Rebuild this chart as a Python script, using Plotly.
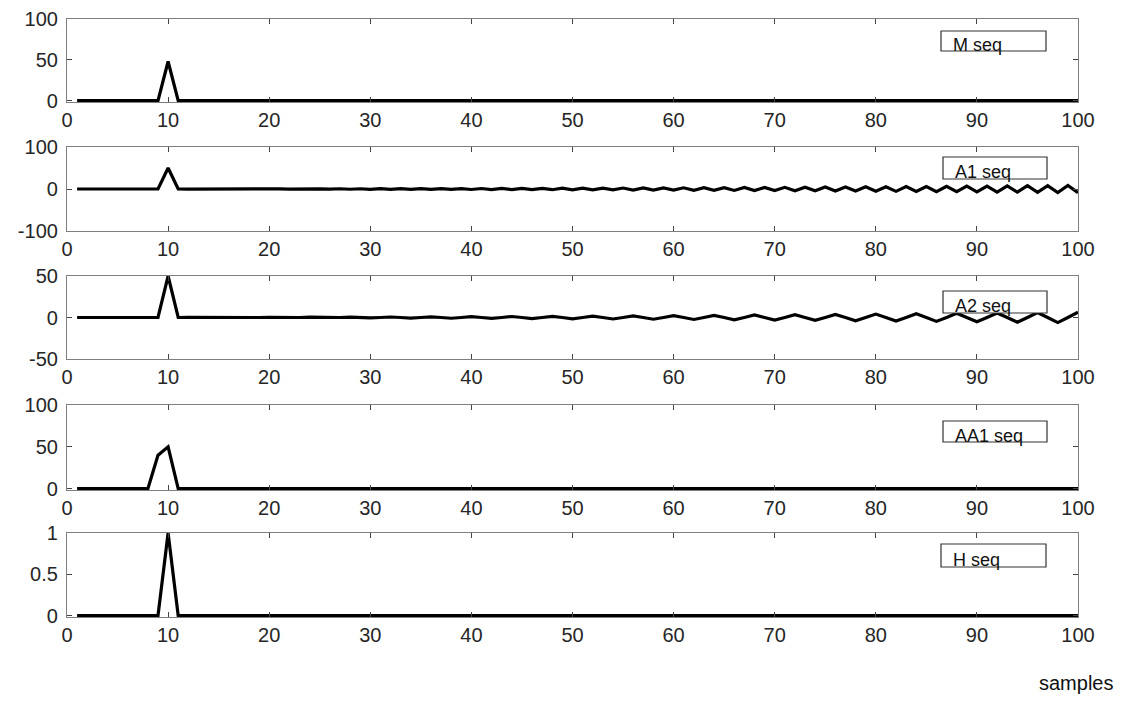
import plotly.graph_objects as go

samples = list(range(1, 101))

m_seq = [0, 0, 0, 0, 0, 0, 0, 0, 0, 48] + [0] * 90

a1_seq = [
    0, 0, 0, 0, 0, 0, 0, 0, 0, 50,
    0.1, -0.1, 0.1, -0.2, 0.2, -0.2, 0.2, -0.3, 0.3, -0.3,
    0.4, -0.4, 0.4, -0.5, 0.5, -0.5, 0.6, -0.6, 0.6, -0.7,
    0.7, -0.8, 0.8, -0.9, 0.9, -1.0, 1.0, -1.1, 1.1, -1.2,
    1.2, -1.3, 1.4, -1.4, 1.5, -1.6, 1.6, -1.7, 1.8, -1.9,
    1.9, -2.0, 2.1, -2.2, 2.3, -2.4, 2.5, -2.6, 2.7, -2.8,
    2.9, -3.0, 3.1, -3.2, 3.3, -3.4, 3.5, -3.7, 3.8, -3.9,
    4.0, -4.2, 4.3, -4.4, 4.6, -4.7, 4.8, -5.0, 5.1, -5.3,
    5.4, -5.6, 5.7, -5.9, 6.0, -6.2, 6.4, -6.5, 6.7, -6.9,
    7.0, -7.2, 7.4, -7.6, 7.8, -8.0, 8.1, -8.3, 8.5, -8.7,
]

a2_seq = [
    0, 0, 0, 0, 0, 0, 0, 0, 0, 50,
    0, 0.1, 0, -0.1, 0, 0.2, 0, -0.2, 0, 0.3,
    0, -0.3, 0, 0.4, 0, -0.4, 0, 0.5, 0, -0.5,
    0, 0.6, 0, -0.7, 0, 0.8, 0, -0.9, 0, 1.0,
    0, -1.1, 0, 1.2, 0, -1.3, 0, 1.4, 0, -1.6,
    0, 1.7, 0, -1.8, 0, 2.0, 0, -2.1, 0, 2.3,
    0, -2.4, 0, 2.6, 0, -2.8, 0, 3.0, 0, -3.1,
    0, 3.3, 0, -3.5, 0, 3.7, 0, -3.9, 0, 4.1,
    0, -4.3, 0, 4.5, 0, -4.7, 0, 5.0, 0, -5.2,
    0, 5.4, 0, -5.6, 0, 5.9, 0, -6.1, 0, 6.4,
]

aa1_seq = [0, 0, 0, 0, 0, 0, 0, 0, 40, 50] + [0] * 90

h_seq = [0, 0, 0, 0, 0, 0, 0, 0, 0, 1] + [0] * 90

series = [m_seq, a1_seq, a2_seq, aa1_seq, h_seq]
labels = ["M seq", "A1 seq", "A2 seq", "AA1 seq", "H seq"]
y_ranges = [[-1.6, 100], [-100, 100], [-50, 50], [-1.6, 100], [-0.016, 1]]
y_ticks = [[0, 50, 100], [-100, 0, 100], [-50, 0, 50], [0, 50, 100], [0, 0.5, 1]]
y_ticktext = [["0", "50", "100"], ["-100", "0", "100"], ["-50", "0", "50"],
              ["0", "50", "100"], ["0", "0.5", "1"]]
x_ticks = list(range(0, 101, 10))

# layout geometry (reference pixels; the page body adds an 8px offset)
OFF = 8
W, H = 1126, 704
ML, MR, MT, MB = 67 - OFF, 48 + OFF, 19 - OFF, 87 + OFF
PW = W - ML - MR
PH = H - MT - MB
panel_px = [(19, 102), (147, 231), (276, 359), (405, 490), (533, 617)]
legend_px = [(941, 31, 1046, 51), (943, 157, 1047, 179), (943, 291, 1047, 313),
             (943, 421, 1047, 442), (941, 544, 1046, 567)]


def py2paper(py):
    return (MT + PH - (py - OFF)) / PH


def px2paper(px):
    return (px - OFF - ML) / PW


fig = go.Figure()
font_family = "Liberation Sans, Arial, sans-serif"
axis_color = "#7f7f7f"
text_color = "#262626"

for i, (vals, lab) in enumerate(zip(series, labels)):
    n = i + 1
    xa = "x" if n == 1 else f"x{n}"
    ya = "y" if n == 1 else f"y{n}"
    fig.add_trace(go.Scatter(
        x=samples, y=vals, mode="lines", xaxis=xa, yaxis=ya,
        line=dict(color="black", width=3.2), showlegend=False,
        hoverinfo="skip",
    ))
    top, bot = panel_px[i]
    common = dict(showline=True, linecolor=axis_color, linewidth=1.2,
                  mirror="ticks", ticks="inside", ticklen=5,
                  tickcolor="#444444", tickwidth=1.2, showgrid=False,
                  zeroline=False, automargin=False,
                  tickfont=dict(family=font_family, size=20, color=text_color))
    fig.layout[f"xaxis{'' if n == 1 else n}"] = dict(
        domain=[0, 1], anchor=ya, range=[0, 100], tickvals=x_ticks, **common)
    fig.layout[f"yaxis{'' if n == 1 else n}"] = dict(
        domain=[py2paper(bot), py2paper(top)], anchor=xa, range=y_ranges[i],
        tickvals=y_ticks[i], ticktext=y_ticktext[i], ticklabelstandoff=4,
        **common)

    x0, y0, x1, y1 = legend_px[i]
    fig.add_shape(type="rect", xref="paper", yref="paper",
                  x0=px2paper(x0), x1=px2paper(x1),
                  y0=py2paper(y1), y1=py2paper(y0),
                  line=dict(color="#333333", width=1.2),
                  fillcolor="white", layer="above")
    fig.add_annotation(text=lab, xref="paper", yref="paper",
                       x=px2paper(x0 + 10), y=py2paper((y0 + y1) / 2 + 4),
                       xanchor="left", yanchor="middle", showarrow=False,
                       font=dict(family=font_family, size=18, color="#111111"))

fig.add_annotation(text="samples", xref="paper", yref="paper",
                   x=px2paper(1115), y=py2paper(683), xanchor="right",
                   yanchor="middle", showarrow=False,
                   font=dict(family=font_family, size=20, color="#111111"))

fig.update_layout(
    width=W, height=H,
    margin=dict(l=ML, r=MR, t=MT, b=MB, pad=0, autoexpand=False),
    paper_bgcolor="white", plot_bgcolor="white",
    font=dict(family=font_family, color=text_color),
)

fig.write_html("out.html")
